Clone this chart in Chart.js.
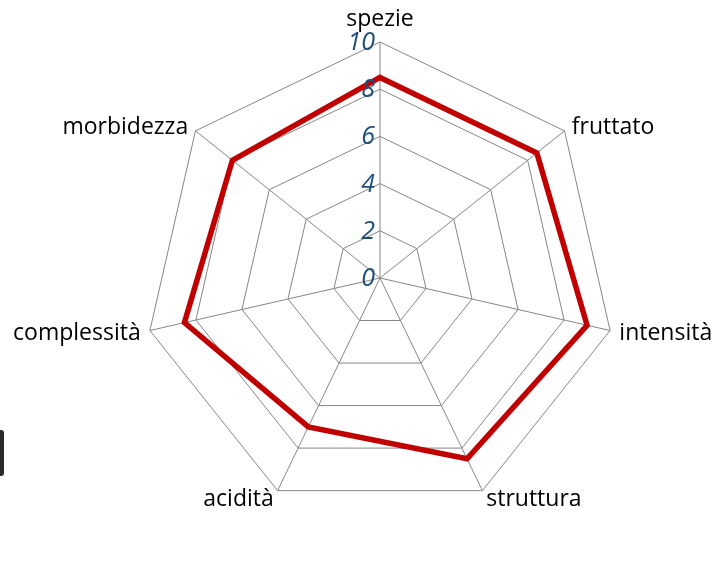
<!DOCTYPE html>
<html>
<head>
<meta charset="utf-8">
<script src="https://cdn.jsdelivr.net/npm/chart.js@4.4.1/dist/chart.umd.min.js"></script>
<style>
  html, body { margin: 0; padding: 0; background: #ffffff; }
  #wrap { position: relative; width: 725px; height: 567px; overflow: hidden; }
  #mark { position: absolute; left: 0; top: 430px; width: 4px; height: 46px; background: #2b2b2b; border-radius: 0 3px 3px 0; }
</style>
</head>
<body>
<div id="wrap">
  <canvas id="c" width="725" height="567"></canvas>
  <div id="mark"></div>
</div>
<script>
const categories = ['spezie', 'fruttato', 'intensità', 'struttura', 'acidità', 'complessità', 'morbidezza'];
const values = [8.5, 8.5, 9, 8.5, 7, 8.5, 8];
const tickValues = [0, 2, 4, 6, 8, 10];

const textPlugin = {
  id: 'textPlugin',
  afterDatasetsDraw(chart) {
    const s = chart.scales.r;
    const ctx = chart.ctx;
    ctx.save();
    // tick labels
    ctx.font = 'italic 25px "Open Sans"';
    ctx.fillStyle = '#1F4E79';
    ctx.textAlign = 'right';
    ctx.textBaseline = 'alphabetic';
    s.ticks.forEach(t => {
      const d = s.getDistanceFromCenterForValue(t.value);
      ctx.fillText(String(t.value), s.xCenter - 5, s.yCenter - d + 8);
    });
    // point labels
    ctx.font = '23px "Open Sans"';
    ctx.fillStyle = '#000000';
    categories.forEach((lab, i) => {
      const p = s.getPointPosition(i, s.drawingArea);
      const th = p.angle + Math.PI / 2;
      const sn = Math.sin(th), cs = Math.cos(th);
      if (Math.abs(sn) < 0.1) {
        ctx.textAlign = 'center';
        ctx.fillText(lab, p.x, p.y - 16);
      } else {
        ctx.textAlign = sn > 0 ? 'left' : 'right';
        const gap = 10 * Math.abs(sn) - 0.5;
        ctx.fillText(lab, p.x + Math.sign(sn) * gap, p.y + 8 - 8 * cs);
      }
    });
    ctx.restore();
  }
};

new Chart(document.getElementById('c'), {
  type: 'radar',
  data: {
    labels: categories,
    datasets: [{
      data: values,
      borderColor: '#C00000',
      borderWidth: 5.5,
      backgroundColor: 'rgba(0,0,0,0)',
      fill: false,
      pointRadius: 0,
      pointHoverRadius: 0,
      tension: 0,
      borderJoinStyle: 'miter'
    }]
  },
  options: {
    responsive: false,
    animation: false,
    events: [],
    layout: { padding: { left: 144, right: 109, top: 42, bottom: 53 } },
    plugins: { legend: { display: false }, tooltip: { enabled: false } },
    scales: {
      r: {
        min: tickValues[0],
        max: tickValues[tickValues.length - 1],
        ticks: { stepSize: tickValues[1] - tickValues[0], display: false },
        grid: { color: '#868686', lineWidth: 1 },
        angleLines: { color: '#868686', lineWidth: 1 },
        pointLabels: { display: false }
      }
    }
  },
  plugins: [textPlugin]
});
</script>
</body>
</html>
